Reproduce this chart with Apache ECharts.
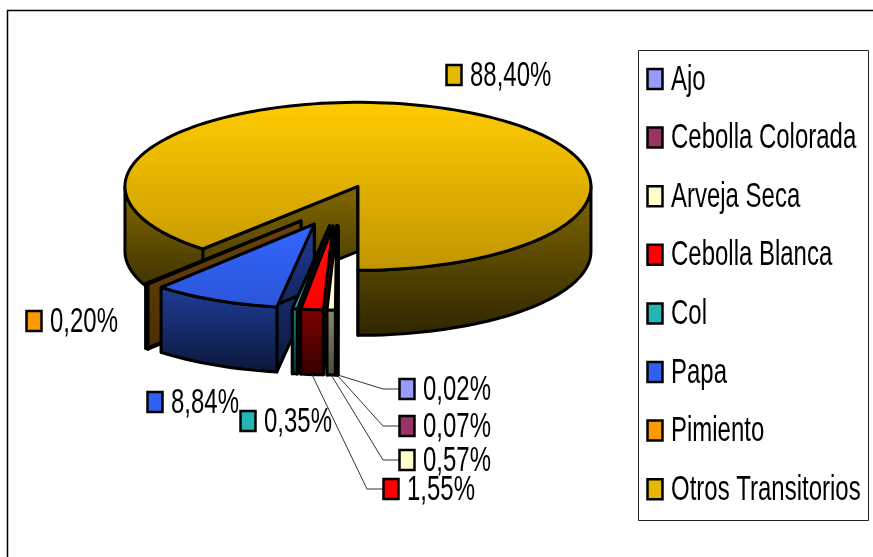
<!DOCTYPE html>
<html>
<head>
<meta charset="utf-8">
<style>
  html, body { margin: 0; padding: 0; background: #fff; overflow: hidden; }
  #chart { width: 873px; height: 557px; }
</style>
<script src="https://cdn.jsdelivr.net/npm/echarts@6/dist/echarts.min.js"></script>
</head>
<body>
<div id="chart"></div>
<script>
  // valores, en el orden de la leyenda
  var categories = ['Ajo', 'Cebolla Colorada', 'Arveja Seca', 'Cebolla Blanca', 'Col', 'Papa', 'Pimiento', 'Otros Transitorios']
  var percentages = [0.02, 0.07, 0.57, 1.55, 0.35, 8.84, 0.20, 88.40]

  var flatColors = ['#9999ff', '#993366', '#ffffcc', '#ff0000', '#26b5b5', '#3060f0', '#ff9900', '#e6b800']
  var topColors = [
    ['#9999ff', '#8080e0'], ['#993366', '#802b55'], ['#ffffcc', '#ffffcc'], ['#ff1010', '#ff0000'],
    ['#33cccc', '#2aa8a8'], ['#3366ff', '#2b55d8'], ['#a06a10', '#7a5008'], ['#ffcc00', '#c29500']
  ]
  var sideColors = [
    ['#66667f', '#33333f'], ['#662244', '#331122'], ['#8a8a72', '#4a4a3c'], ['#800000', '#330000'],
    ['#1f7a7a', '#0a3333'], ['#1f3d99', '#0b1738'], ['#6b4308', '#4a2e04'], ['#836900', '#2e2500']
  ]

  // dibujo: de atras hacia delante
  var drawOrder = [7, 6, 5, 4, 0, 1, 3, 2]

  // centro y radios de la elipse, explosion y altura del pastel
  var cx = 338, cy = 205.5, rx = 233, ry = 84, depth = 65, explodeX = 56, explodeY = 20.5

  // posicion de cada etiqueta (centro del cuadrito)
  var labelSpots = [[407, 389], [407, 426], [407, 460], [391, 489], [248, 421], [155, 402], [34, 321], [454, 75]]
  var hasLeader = [true, true, true, true, false, false, false, false]

  // no hay fuente angosta instalada: Liberation Sans alta y comprimida
  var textFont = '35px "Liberation Sans"'
  var textScale = 0.685

  var angles = []
  var acc = 0
  for (var k = 0; k < percentages.length; k++) {
    angles.push([acc * 3.6, (acc + percentages[k]) * 3.6])
    acc += percentages[k]
  }

  function rad (d) { return d * Math.PI / 180 }

  function arcPoints (ox, oy, a, b) {
    var pts = []
    var n = Math.max(2, Math.ceil((b - a) / 2))
    for (var i = 0; i <= n; i++) {
      var t = rad(a + (b - a) * i / n)
      // 0 grados abajo, avanza en sentido horario
      pts.push([ox - rx * Math.sin(t), oy + ry * Math.cos(t)])
    }
    return pts
  }

  function shifted (pts) {
    return pts.map(function (p) { return [p[0], p[1] + depth] })
  }

  function grad (c) {
    return new echarts.graphic.LinearGradient(0, 0, 0, 1, [{offset: 0, color: c[0]}, {offset: 1, color: c[1]}])
  }

  function face (points, fill) {
    return {
      type: 'polygon',
      shape: {points: points},
      style: {fill: fill, stroke: '#000', lineWidth: 3, lineJoin: 'round'}
    }
  }

  function swatch (x, y, color) {
    return {
      type: 'rect',
      shape: {x: x - 7.5, y: y - 10, width: 15, height: 20},
      style: {fill: color, stroke: '#000', lineWidth: 2.5}
    }
  }

  function narrowText (x, y, text) {
    return {
      type: 'text',
      x: x,
      y: y + 1,
      scaleX: textScale,
      style: {text: text, font: textFont, fill: '#000', textVerticalAlign: 'middle'}
    }
  }

  function makeRenderItem (idx) {
    return function () {
      var a = angles[idx][0], b = angles[idx][1]
      var mid = rad((a + b) / 2)
      var ox = cx - explodeX * Math.sin(mid)
      var oy = cy + explodeY * Math.cos(mid)
      var side = grad(sideColors[idx])
      var kids = []
      var vertex = [ox, oy]

      // paredes radiales
      var ends = [a, b]
      for (var e = 0; e < 2; e++) {
        var rim = arcPoints(ox, oy, ends[e], ends[e])[0]
        var wall = [vertex, rim, [rim[0], rim[1] + depth], [ox, oy + depth]]
        kids.push(face(wall, side))
      }

      // borde exterior, solo la parte que mira al frente
      var ranges = [[a, Math.min(b, 90)], [Math.max(a, 270), b]]
      ranges.forEach(function (r) {
        if (r[1] <= r[0]) return
        var arc = arcPoints(ox, oy, r[0], r[1])
        kids.push(face(arc.concat(shifted(arc).reverse()), side))
      })

      // cara superior
      kids.push(face([vertex].concat(arcPoints(ox, oy, a, b)), grad(topColors[idx])))

      // guia, cuadrito y porcentaje
      var spot = labelSpots[idx]
      if (hasLeader[idx]) {
        var foot = arcPoints(ox, oy + depth, (a + b) / 2, (a + b) / 2)[0]
        kids.push({
          type: 'polyline',
          shape: {points: [foot, [spot[0] - 24, spot[1]], [spot[0] - 8, spot[1]]]},
          style: {fill: null, stroke: '#333', lineWidth: 1}
        })
      }
      kids.push(swatch(spot[0], spot[1], flatColors[idx]))
      kids.push(narrowText(spot[0] + 16, spot[1], percentages[idx].toFixed(2).replace('.', ',') + '%'))
      return {type: 'group', children: kids}
    }
  }

  var series = drawOrder.map(function (idx) {
    return {
      name: categories[idx],
      type: 'custom',
      coordinateSystem: 'none',
      silent: true,
      animation: false,
      itemStyle: {color: flatColors[idx]},
      data: [percentages[idx]],
      renderItem: makeRenderItem(idx)
    }
  })

  // marco del grafico y caja de la leyenda
  var graphics = [
    {type: 'line', shape: {x1: 7, y1: 10.5, x2: 873, y2: 10.5}, style: {stroke: '#000', lineWidth: 1.5}},
    {type: 'line', shape: {x1: 7.5, y1: 10, x2: 7.5, y2: 557}, style: {stroke: '#000', lineWidth: 1.5}},
    {type: 'rect', shape: {x: 638.5, y: 50.5, width: 230, height: 470}, style: {fill: '#fff', stroke: '#222', lineWidth: 1}}
  ]
  categories.forEach(function (name, i) {
    var rowY = 79 + i * 58.6
    graphics.push(swatch(655, rowY, flatColors[i]))
    graphics.push(narrowText(671, rowY, name))
  })

  var myChart = echarts.init(document.getElementById('chart'), null, {renderer: 'canvas'})
  myChart.setOption({
    backgroundColor: '#fff',
    animation: false,
    graphic: graphics,
    series: series
  })
</script>
</body>
</html>
